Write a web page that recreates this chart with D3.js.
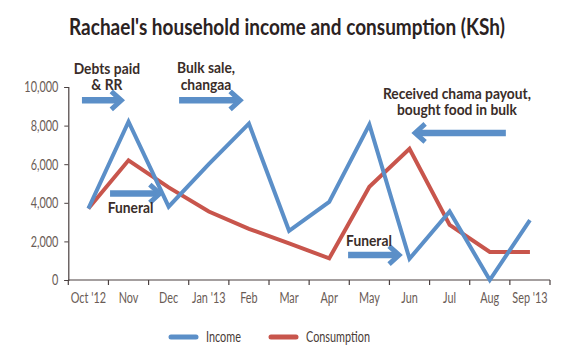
<!DOCTYPE html>
<html>
<head>
<meta charset="utf-8">
<script src="https://cdn.jsdelivr.net/npm/d3@7"></script>
<style>
  body { margin: 0; background: #fff; }
  svg text { font-family: Lato, Roboto, "Liberation Sans", sans-serif; }
</style>
</head>
<body>
<div id="chart"></div>
<script>
const months = ["Oct '12", "Nov", "Dec", "Jan '13", "Feb", "Mar", "Apr", "May", "Jun", "Jul", "Aug", "Sep '13"];
const income = [3700, 8200, 3800, 6000, 8100, 2550, 4050, 8050, 1100, 3550, 0, 3100];
const consumption = [3700, 6200, 4800, 3550, 2650, 1900, 1120, 4830, 6800, 2850, 1450, 1450];
const yTicks = [0, 2000, 4000, 6000, 8000, 10000];

// annotations: x in month index, y in KSh
const arrows = [
  { x1: -0.16, x2: 0.82, y: 9310 },
  { x1: 2.26, x2: 3.78, y: 9310 },
  { x1: 8.14, x2: 10.4, y: 7620, rev: true },
  { x1: 0.54, x2: 1.78, y: 4480 },
  { x1: 6.47, x2: 7.74, y: 1290 }
];
const notes = [
  { x: 0.46, y: 10690, lines: ["Debts paid", "& RR"] },
  { x: 2.93, y: 10710, lines: ["Bulk sale,", "changaa"] },
  { x: 9.18, y: 9400, lines: ["Received chama payout,", "bought food in bulk"] },
  { x: 1.05, y: 3470, lines: ["Funeral"] },
  { x: 6.99, y: 1760, lines: ["Funeral"] }
];

const width = 570, height = 352;
const margin = { top: 87, right: 20, bottom: 72, left: 68.3 };
const innerW = 550 - margin.left;
const innerH = 280 - margin.top;

const blue = "#5b8fc8", red = "#c8554c", txt = "#3a2d29", axisCol = "#4a4040", lblCol = "#6a5c56";

const svg = d3.select("#chart").append("svg")
  .attr("width", width).attr("height", height);

// the original uses a condensed face: squeeze each text around its anchor
const condense = (sel, k) => {
  sel.each(function () {
    const t = d3.select(this);
    const px = +t.attr("x") || 0, py = +t.attr("y") || 0;
    t.attr("x", 0).attr("y", 0)
      .attr("transform", "translate(" + px + "," + py + ") scale(" + k + ",1)");
  });
};

const title = svg.append("text")
  .attr("x", 287).attr("y", 35)
  .attr("text-anchor", "middle")
  .attr("font-size", 22).attr("font-weight", "bold")
  .attr("fill", "#2b221f")
  .text("Rachael's household income and consumption (KSh)");
const kBold = 436 / title.node().getComputedTextLength();
condense(title, kBold);

const g = svg.append("g")
  .attr("transform", "translate(" + margin.left + "," + margin.top + ")");

const x = d3.scaleBand().domain(months).range([0, innerW]);
const xi = d3.scaleLinear().domain([-0.5, months.length - 0.5]).range([0, innerW]);
const y = d3.scaleLinear().domain([0, 10000]).range([innerH, 0]);

// y axis
const yAxis = g.append("g")
  .call(d3.axisLeft(y).tickValues(yTicks).tickSize(4).tickPadding(6).tickFormat(d3.format(",")));
yAxis.select(".domain").attr("stroke", axisCol).attr("stroke-width", 1.2);
yAxis.selectAll(".tick line").attr("stroke", axisCol);
const yl = yAxis.selectAll("text").attr("font-size", 15).attr("fill", lblCol)
  .style("font-family", "Lato, Roboto, sans-serif");
const probe = yl.filter((d) => d === 10000).node();
const kReg = 34 / probe.getComputedTextLength();
condense(yl, kReg);

// x axis: ticks on band boundaries
const xAxis = g.append("g").attr("transform", "translate(0," + innerH + ")");
xAxis.append("line")
  .attr("x1", 0).attr("x2", innerW)
  .attr("stroke", axisCol).attr("stroke-width", 1.2);
xAxis.selectAll(".bt")
  .data(d3.range(months.length + 1))
  .enter().append("line")
  .attr("x1", (d) => xi(d - 0.5)).attr("x2", (d) => xi(d - 0.5))
  .attr("y1", 0).attr("y2", 5)
  .attr("stroke", axisCol).attr("stroke-width", 1.2);
const xl = xAxis.selectAll(".lbl")
  .data(months)
  .enter().append("text")
  .attr("x", (d) => x(d) + x.bandwidth() / 2)
  .attr("y", 23)
  .attr("text-anchor", "middle")
  .attr("font-size", 15).attr("fill", lblCol)
  .text((d) => d);
condense(xl, kReg);

const line = d3.line()
  .x((d, i) => xi(i))
  .y((d) => y(d));

g.append("path").datum(consumption)
  .attr("fill", "none").attr("stroke", red).attr("stroke-width", 4)
  .attr("stroke-linejoin", "miter")
  .attr("d", line);

g.append("path").datum(income)
  .attr("fill", "none").attr("stroke", blue).attr("stroke-width", 4)
  .attr("stroke-linejoin", "miter")
  .attr("d", line);

// annotation arrows
arrows.forEach((a) => {
  const xs = xi(a.x1), xe = xi(a.x2), yy = y(a.y);
  const tip = a.rev ? xs : xe;
  const dir = a.rev ? 1 : -1;
  g.append("line")
    .attr("x1", a.rev ? xs + 3 : xs).attr("x2", a.rev ? xe : xe - 3)
    .attr("y1", yy).attr("y2", yy)
    .attr("stroke", blue).attr("stroke-width", 6.5);
  g.append("polyline")
    .attr("points", [[tip + dir * 10, yy - 9], [tip, yy], [tip + dir * 10, yy + 9]].map((p) => p.join(",")).join(" "))
    .attr("fill", "none").attr("stroke", blue).attr("stroke-width", 5)
    .attr("stroke-linejoin", "miter");
});

// annotation text
notes.forEach((n) => {
  n.lines.forEach((l, i) => {
    const t = g.append("text")
      .attr("x", xi(n.x)).attr("y", y(n.y) + i * 16.5)
      .attr("text-anchor", "middle")
      .attr("font-size", 16).attr("font-weight", "bold")
      .attr("fill", txt)
      .text(l);
    condense(t, kBold);
  });
});

// legend
const legend = svg.append("g").attr("transform", "translate(0,337)");
const items = [
  { name: "Income", color: blue, x: 171 },
  { name: "Consumption", color: red, x: 271 }
];
items.forEach((it) => {
  legend.append("line")
    .attr("x1", it.x).attr("x2", it.x + 25)
    .attr("stroke", it.color).attr("stroke-width", 5)
    .attr("stroke-linecap", "round");
  const t = legend.append("text")
    .attr("x", it.x + 35).attr("y", 5)
    .attr("font-size", 15).attr("fill", "#4a3c37")
    .text(it.name);
  condense(t, kReg);
});
</script>
</body>
</html>
